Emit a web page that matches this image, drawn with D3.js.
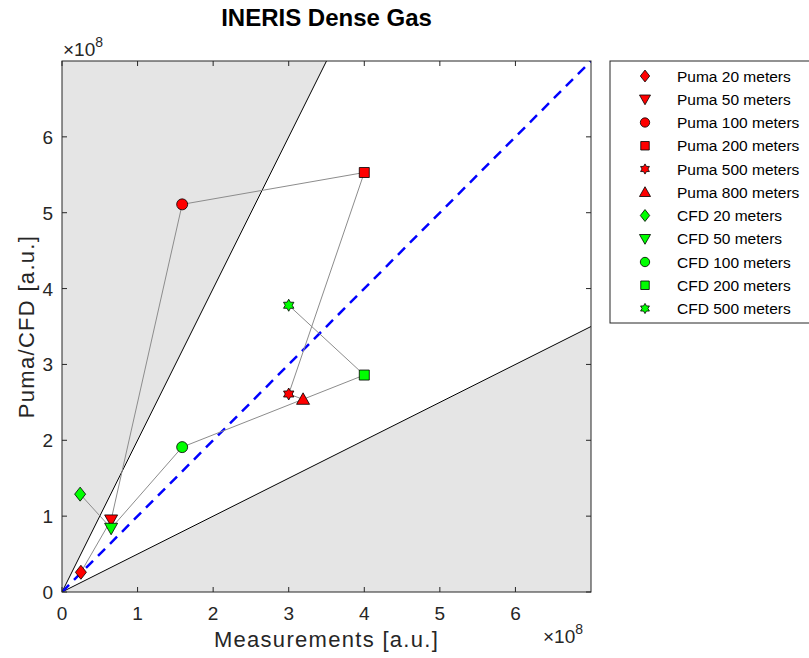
<!DOCTYPE html>
<html>
<head>
<meta charset="utf-8">
<script src="https://cdn.jsdelivr.net/npm/d3@7"></script>
<style>
  body { margin: 0; background: #fff; }
  svg text { font-family: "Liberation Sans", Arial, sans-serif; }
</style>
</head>
<body>
<svg id="chart" width="809" height="658"></svg>
<script>
// Values in units of 1e8
const labels = ["20 meters", "50 meters", "100 meters", "200 meters", "500 meters", "800 meters"];
const symbols = ["diamond", "triangleDown", "circle", "square", "hexagram", "triangleUp"];
const measured = [0.25, 0.65, 1.59, 4.0, 3.0, 3.19];
const puma = [0.26, 0.95, 5.11, 5.53, 2.61, 2.54];
const cfdMeasured = [0.24, 0.65, 1.59, 4.0, 3.0];
const cfd = [1.29, 0.84, 1.91, 2.86, 3.78];
const ticks = [0, 1, 2, 3, 4, 5, 6];

const svg = d3.select("#chart");
const m = { left: 62, top: 61, right: 591, bottom: 592 };
const x = d3.scaleLinear().domain([0, 7]).range([m.left, m.right]);
const y = d3.scaleLinear().domain([0, 7]).range([m.bottom, m.top]);
const axisColor = "#262626";

// Shaded regions outside the factor-of-two band
svg.append("clipPath").attr("id", "plotclip").append("rect")
  .attr("x", m.left).attr("y", m.top).attr("width", m.right - m.left).attr("height", m.bottom - m.top);
const g = svg.append("g").attr("clip-path", "url(#plotclip)");
g.append("rect").attr("x", m.left).attr("y", m.top).attr("width", m.right - m.left).attr("height", m.bottom - m.top).attr("fill", "#fff");
const poly = d3.line().x(d => x(d[0])).y(d => y(d[1]));
g.append("path").attr("d", poly([[0, 0], [3.5, 7], [0, 7]]) + "Z").attr("fill", "#e5e5e5");
g.append("path").attr("d", poly([[0, 0], [7, 3.5], [7, 0]]) + "Z").attr("fill", "#e5e5e5");
g.append("path").attr("d", poly([[0, 0], [3.5, 7]])).attr("stroke", "#000").attr("stroke-width", 1).attr("fill", "none");
g.append("path").attr("d", poly([[0, 0], [7, 3.5]])).attr("stroke", "#000").attr("stroke-width", 1).attr("fill", "none");
// 1:1 line
g.append("path").attr("d", poly([[0, 0], [7, 7]])).attr("stroke", "#0000ff").attr("stroke-width", 2.5)
  .attr("stroke-dasharray", "10,7").attr("fill", "none");

// Connecting lines
const pumaPts = measured.map((v, i) => [v, puma[i]]);
const cfdPts = cfdMeasured.map((v, i) => [v, cfd[i]]);
g.append("path").attr("d", poly(pumaPts)).attr("stroke", "#8c8c8c").attr("stroke-width", 1).attr("fill", "none");
g.append("path").attr("d", poly(cfdPts)).attr("stroke", "#8c8c8c").attr("stroke-width", 1).attr("fill", "none");

// Marker shapes
function hexagram(r) {
  const pts = [];
  for (let k = 0; k < 12; k++) {
    const a = -Math.PI / 2 + k * Math.PI / 6;
    const rr = k % 2 === 0 ? r : r * 0.58;
    pts.push([rr * Math.cos(a), rr * Math.sin(a)]);
  }
  return "M" + pts.map(p => p.join(",")).join("L") + "Z";
}
function markerPath(type) {
  switch (type) {
    case "diamond": return "M0,-7L5.5,0L0,7L-5.5,0Z";
    case "triangleDown": return "M-6.5,-5L6.5,-5L0,6.5Z";
    case "triangleUp": return "M-6.5,5L6.5,5L0,-6.5Z";
    case "circle": return "M5.5,0A5.5,5.5 0 1,1 -5.5,0A5.5,5.5 0 1,1 5.5,0Z";
    case "square": return "M-5,-5L5,-5L5,5L-5,5Z";
    case "hexagram": return hexagram(6);
  }
}
function drawMarker(sel, type, color, cx, cy, scale) {
  sel.append("path").attr("d", markerPath(type))
    .attr("transform", `translate(${cx},${cy}) scale(${scale})`)
    .attr("fill", color).attr("stroke", "#000").attr("stroke-width", 0.8 / scale);
}
const red = "#ff0000", green = "#00ff00";
pumaPts.forEach((p, i) => drawMarker(g, symbols[i], red, x(p[0]), y(p[1]), 1));
cfdPts.forEach((p, i) => drawMarker(g, symbols[i], green, x(p[0]), y(p[1]), 1));

// Axes box
svg.append("rect").attr("x", m.left).attr("y", m.top).attr("width", m.right - m.left).attr("height", m.bottom - m.top)
  .attr("fill", "none").attr("stroke", axisColor).attr("stroke-width", 1);

// Ticks (inward on all sides) and tick labels
const tl = 5;
ticks.forEach(t => {
  svg.append("line").attr("x1", x(t)).attr("x2", x(t)).attr("y1", m.bottom).attr("y2", m.bottom - tl).attr("stroke", axisColor);
  svg.append("line").attr("x1", x(t)).attr("x2", x(t)).attr("y1", m.top).attr("y2", m.top + tl).attr("stroke", axisColor);
  svg.append("line").attr("y1", y(t)).attr("y2", y(t)).attr("x1", m.left).attr("x2", m.left + tl).attr("stroke", axisColor);
  svg.append("line").attr("y1", y(t)).attr("y2", y(t)).attr("x1", m.right).attr("x2", m.right - tl).attr("stroke", axisColor);
  svg.append("text").attr("x", x(t)).attr("y", 620).attr("text-anchor", "middle")
    .attr("font-size", 19).attr("fill", axisColor).text(t);
  svg.append("text").attr("x", 53).attr("y", y(t) + 7).attr("text-anchor", "end")
    .attr("font-size", 19).attr("fill", axisColor).text(t);
});

// Exponent labels
function expLabel(px, py) {
  const t = svg.append("text").attr("x", px).attr("y", py).attr("font-size", 19).attr("fill", axisColor);
  t.append("tspan").text("\u00d710");
  t.append("tspan").attr("font-size", 14).attr("dy", -9).text("8");
}
expLabel(63, 56);
expLabel(543, 643);

// Axis titles
svg.append("text").attr("x", (m.left + m.right) / 2).attr("y", 647).attr("text-anchor", "middle")
  .attr("font-size", 22).attr("letter-spacing", 1.3).attr("fill", axisColor).text("Measurements [a.u.]");
svg.append("text").attr("transform", `translate(34,${(m.top + m.bottom) / 2}) rotate(-90)`)
  .attr("text-anchor", "middle").attr("font-size", 22).attr("letter-spacing", 1.3).attr("fill", axisColor).text("Puma/CFD [a.u.]");

// Title
svg.append("text").attr("x", (m.left + m.right) / 2).attr("y", 26).attr("text-anchor", "middle")
  .attr("font-size", 24).attr("font-weight", "bold").attr("fill", "#000").text("INERIS Dense Gas");

// Legend
const legendItems = labels.map((l, i) => ({ text: "Puma " + l, sym: symbols[i], color: red }))
  .concat(cfdMeasured.map((_, i) => ({ text: "CFD " + labels[i], sym: symbols[i], color: green })));
const lg = svg.append("g");
lg.append("rect").attr("x", 610).attr("y", 61).attr("width", 220).attr("height", 262)
  .attr("fill", "#fff").attr("stroke", axisColor).attr("stroke-width", 1);
legendItems.forEach((d, i) => {
  const ly = 76 + i * 23.25;
  drawMarker(lg, d.sym, d.color, 645, ly, 0.85);
  lg.append("text").attr("x", 677).attr("y", ly + 5.5).attr("font-size", 15.5).attr("fill", "#000").text(d.text);
});
</script>
</body>
</html>
